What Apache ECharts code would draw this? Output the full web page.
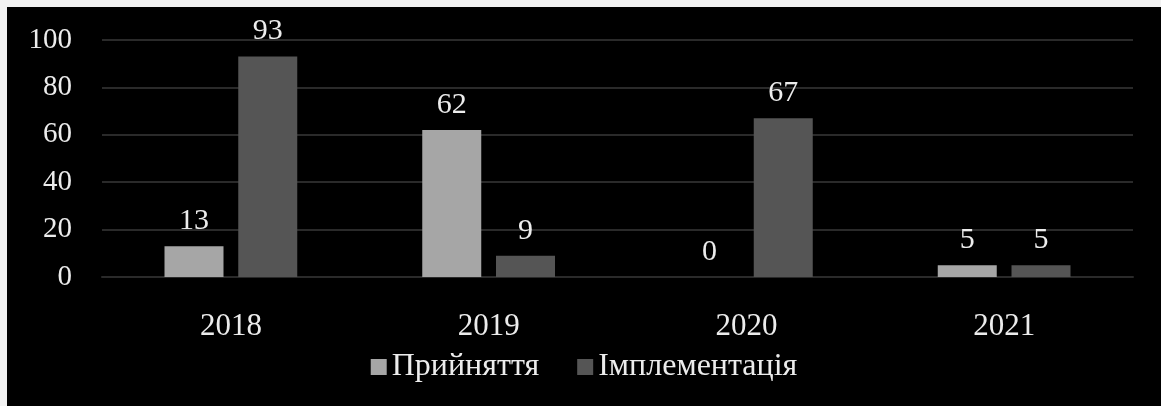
<!DOCTYPE html>
<html>
<head>
<meta charset="utf-8">
<script src="https://cdn.jsdelivr.net/npm/echarts@6/dist/echarts.min.js"></script>
<style>
html,body{margin:0;padding:0;background:#f2f2f2;width:1161px;height:406px;overflow:hidden;}
#c{position:absolute;left:7px;top:7px;width:1154px;height:399px;background:#000;}
</style>
</head>
<body>
<div id="c"></div>
<script>
const categories = ['2018', '2019', '2020', '2021'];
const seriesNames = ['Прийняття', 'Імплементація'];
const adoption = [13, 62, 0, 5];
const implementation = [93, 9, 67, 5];
const yTicks = [0, 20, 40, 60, 80, 100];

const font = '"Liberation Serif", "Times New Roman", serif';
const txt = '#ececec';
const chart = echarts.init(document.getElementById('c'));
chart.setOption({
  backgroundColor: '#000',
  animation: false,
  textStyle: { fontFamily: font },
  grid: { left: 95, right: 28, top: 33, bottom: 129, containLabel: false },
  legend: {
    data: seriesNames,
    bottom: 18,
    left: 'center',
    itemWidth: 16, itemHeight: 16, itemGap: 38,
    icon: 'rect',
    textStyle: { color: txt, fontSize: 32, fontFamily: font }
  },
  xAxis: {
    type: 'category',
    data: categories,
    axisTick: { show: false },
    axisLine: { show: true, lineStyle: { color: '#2a2a2a', width: 2 } },
    axisLabel: { color: txt, fontSize: 31, fontFamily: font, margin: 34 }
  },
  yAxis: {
    type: 'value',
    min: yTicks[0], max: yTicks[yTicks.length - 1], interval: 20,
    axisLine: { show: false }, axisTick: { show: false },
    splitLine: { lineStyle: { color: '#2a2a2a', width: 2 } },
    axisLabel: { color: txt, fontSize: 29, fontFamily: font, margin: 30 }
  },
  series: [
    {
      name: seriesNames[0], type: 'bar', data: adoption,
      barWidth: 59, barGap: '25%',
      itemStyle: { color: '#a6a6a6' },
      label: { show: true, position: 'top', distance: 10, color: txt, fontSize: 30, fontFamily: font }
    },
    {
      name: seriesNames[1], type: 'bar', data: implementation,
      barWidth: 59,
      itemStyle: { color: '#555555' },
      label: { show: true, position: 'top', distance: 10, color: txt, fontSize: 30, fontFamily: font }
    }
  ]
});
</script>
</body>
</html>
